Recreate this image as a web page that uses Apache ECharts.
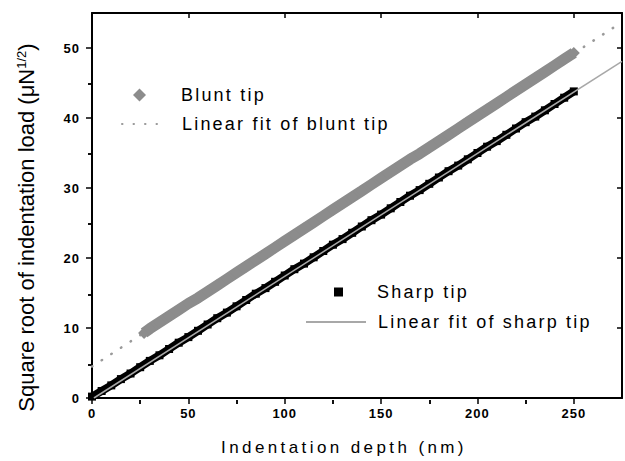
<!DOCTYPE html>
<html>
<head>
<meta charset="utf-8">
<script src="https://cdn.jsdelivr.net/npm/echarts@6/dist/echarts.min.js"></script>
<style>
  html, body { margin: 0; padding: 0; background: #fff; }
  #chart { width: 625px; height: 461px; }
</style>
</head>
<body>
<div id="chart"></div>
<script>
// Indentation depth (nm) at which each reading was taken
var bluntDepth = [27, 30, 35, 40, 45, 50, 55, 60, 65, 70, 75, 80, 85, 90, 95, 100, 105, 110, 115, 120,
  125, 130, 135, 140, 145, 150, 155, 160, 165, 170, 175, 180, 185, 190, 195, 200, 205, 210, 215, 220,
  225, 230, 235, 240, 245, 250];
// Square root of indentation load, blunt tip
var bluntLoad = [9.3, 9.9, 10.8, 11.7, 12.6, 13.5, 14.3, 15.2, 16.1, 17.0, 17.9, 18.8, 19.7, 20.6, 21.5,
  22.4, 23.3, 24.2, 25.1, 26.0, 26.9, 27.8, 28.7, 29.6, 30.5, 31.4, 32.3, 33.2, 34.1, 34.9, 35.8, 36.7,
  37.6, 38.5, 39.4, 40.3, 41.2, 42.1, 43.0, 43.9, 44.8, 45.7, 46.6, 47.5, 48.4, 49.3];

var sharpDepth = [0, 5, 10, 15, 20, 25, 30, 35, 40, 45, 50, 55, 60, 65, 70, 75, 80, 85, 90, 95, 100,
  105, 110, 115, 120, 125, 130, 135, 140, 145, 150, 155, 160, 165, 170, 175, 180, 185, 190, 195, 200,
  205, 210, 215, 220, 225, 230, 235, 240, 245, 250];
// Square root of indentation load, sharp tip
var sharpLoad = [0.2, 1.0, 1.8, 2.7, 3.5, 4.4, 5.3, 6.1, 7.0, 7.9, 8.7, 9.6, 10.5, 11.4, 12.2, 13.1,
  14.0, 14.9, 15.7, 16.6, 17.5, 18.4, 19.2, 20.1, 21.0, 21.9, 22.7, 23.6, 24.5, 25.4, 26.2, 27.1, 28.0,
  28.9, 29.7, 30.6, 31.5, 32.4, 33.2, 34.1, 35.0, 35.9, 36.7, 37.6, 38.5, 39.4, 40.2, 41.1, 42.0, 42.9,
  43.8];

// End points of the two linear fits [depth, load]
var bluntFitEnds = [[0, 4.5], [275, 53.7]];
var sharpFitEnds = [[1, 0], [275, 48.1]];

// Tick positions
var xMajorTicks = [0, 50, 100, 150, 200, 250];
var xMinorTicks = [25, 75, 125, 175, 225];
var yMajorTicks = [0, 10, 20, 30, 40, 50];
var yMinorTicks = [5, 15, 25, 35, 45];

var seriesNames = ['Blunt tip', 'Linear fit of blunt tip', 'Sharp tip', 'Linear fit of sharp tip'];
var xTitle = 'Indentation depth (nm)';

function pairs(xs, ys) {
  return xs.map(function (x, i) { return [x, ys[i]]; });
}

var FONT = 'Liberation Sans, Arial, sans-serif';
var gridRect = { left: 92, right: 3, top: 13, bottom: 61 };

var BLUNT = '#8c8c8c';
var BLUNT_FIT = '#9a9a9a';
var SHARP = '#000';
var SHARP_FIT = '#a8a8a8';

function xAxisDef(grid, pos, ticks, len, inside, extra) {
  return Object.assign({
    type: 'value', gridIndex: grid, position: pos, min: 0, max: 275,
    axisLine: { show: false },
    axisTick: { show: true, customValues: ticks, length: len, inside: inside,
      lineStyle: { color: '#000', width: 1.5 } },
    axisLabel: { show: false },
    splitLine: { show: false }
  }, extra || {});
}
function yAxisDef(grid, pos, ticks, len, inside, extra) {
  return Object.assign({
    type: 'value', gridIndex: grid, position: pos, min: 0, max: 55,
    axisLine: { show: false },
    axisTick: { show: true, customValues: ticks, length: len, inside: inside,
      lineStyle: { color: '#000', width: 1.5 } },
    axisLabel: { show: false },
    splitLine: { show: false }
  }, extra || {});
}

// One legend block per entry so each icon gets its own box size
function legendRow(entry, left, top, w, h, textPad) {
  return {
    data: [entry],
    orient: 'vertical', left: left, top: top, padding: 0,
    itemWidth: w, itemHeight: h,
    selectedMode: false,
    textStyle: { fontFamily: FONT, fontSize: 18, color: '#000', padding: [0, 0, 0, textPad] }
  };
}

var frameLine = { show: true, onZero: false, lineStyle: { color: '#000', width: 2 } };
var tickLabel = { show: true, fontFamily: FONT, fontWeight: 'bold', fontSize: 13, color: '#000' };

var chart = echarts.init(document.getElementById('chart'), null, { renderer: 'svg' });

chart.setOption({
  animation: false,
  backgroundColor: '#fff',
  grid: [
    Object.assign({}, gridRect),
    Object.assign({}, gridRect)
  ],
  xAxis: [
    xAxisDef(0, 'bottom', xMajorTicks, 6, false, {
      axisLine: frameLine,
      axisLabel: Object.assign({ customValues: xMajorTicks, margin: 9 }, tickLabel),
      name: xTitle, nameLocation: 'middle', nameGap: 41,
      nameTextStyle: { fontFamily: FONT, fontSize: 17, color: '#000', padding: [0, 26, 0, 0] }
    }),
    xAxisDef(0, 'top', xMajorTicks, 5, true, { axisLine: frameLine }),
    xAxisDef(1, 'bottom', xMinorTicks, 4, false),
    xAxisDef(1, 'top', xMinorTicks, 4, true)
  ],
  yAxis: [
    yAxisDef(0, 'left', yMajorTicks, 6, false, {
      axisLine: frameLine,
      axisLabel: Object.assign({ customValues: yMajorTicks, margin: 12 }, tickLabel),
      name: 'Square root of indentation load (μN{sup|1/2})',
      nameLocation: 'middle', nameGap: 55,
      nameTextStyle: {
        fontFamily: FONT, fontSize: 22, color: '#000', padding: [0, 44, 0, 0],
        rich: { sup: { fontFamily: FONT, fontSize: 13, verticalAlign: 'top', color: '#000' } }
      }
    }),
    yAxisDef(0, 'right', yMajorTicks, 5, true, { axisLine: frameLine }),
    yAxisDef(1, 'left', yMinorTicks, 4, false),
    yAxisDef(1, 'right', yMinorTicks, 4, true)
  ],
  legend: [
    legendRow({ name: seriesNames[0], icon: 'diamond' }, 133, 86, 13, 13, 30),
    legendRow({ name: seriesNames[1], itemStyle: { opacity: 0 } }, 121, 115, 36, 13, 19),
    legendRow({ name: seriesNames[2], icon: 'rect' }, 334, 283, 9, 9, 29),
    legendRow({ name: seriesNames[3], itemStyle: { opacity: 0 } }, 305, 313, 60, 9, 7)
  ],
  series: [
    {
      name: seriesNames[1], type: 'line', xAxisIndex: 0, yAxisIndex: 0,
      data: bluntFitEnds, symbol: 'none', silent: true,
      itemStyle: { color: BLUNT_FIT },
      lineStyle: { color: BLUNT_FIT, width: 2.5, type: [0.5, 11], cap: 'round' },
      z: 2
    },
    {
      name: seriesNames[0], type: 'line', xAxisIndex: 0, yAxisIndex: 0,
      data: pairs(bluntDepth, bluntLoad),
      symbol: 'diamond', symbolSize: 12, showAllSymbol: true,
      itemStyle: { color: BLUNT },
      lineStyle: { color: BLUNT, width: 11 },
      z: 3
    },
    {
      name: seriesNames[2], type: 'line', xAxisIndex: 0, yAxisIndex: 0,
      data: pairs(sharpDepth, sharpLoad),
      symbol: 'rect', symbolSize: 8, showAllSymbol: true,
      itemStyle: { color: SHARP },
      lineStyle: { color: SHARP, width: 8 },
      z: 4
    },
    {
      name: seriesNames[3], type: 'line', xAxisIndex: 0, yAxisIndex: 0,
      data: sharpFitEnds, symbol: 'none', silent: true,
      itemStyle: { color: SHARP_FIT },
      lineStyle: { color: SHARP_FIT, width: 1.5 },
      z: 5
    }
  ]
});

// Spread out the letters of the legend entries and the depth title
var spaced = {};
seriesNames.forEach(function (n) { spaced[n] = '2.2px'; });
spaced[xTitle] = '3.4px';
function spreadLetters() {
  var nodes = document.querySelectorAll('#chart svg text');
  nodes.forEach(function (t) {
    var s = t.textContent;
    if (spaced[s]) t.style.letterSpacing = spaced[s];
    else if (/^\d+$/.test(s)) t.style.letterSpacing = '1px';
  });
}
chart.on('finished', spreadLetters);
spreadLetters();
</script>
</body>
</html>
